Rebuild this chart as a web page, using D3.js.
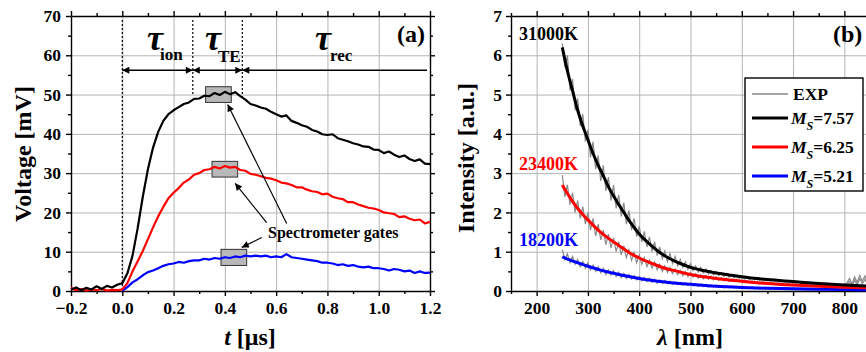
<!DOCTYPE html>
<html>
<head>
<meta charset="utf-8">
<script src="https://cdn.jsdelivr.net/npm/d3@7"></script>
<style>
  body { margin: 0; background: #fff; }
  svg text { font-family: "Liberation Serif", "Times New Roman", serif; font-weight: bold; }
  .grid line { stroke: #b4b4b4; stroke-width: 1; }
  .grid path { display: none; }
  .ax path, .ax line { stroke: #000; stroke-width: 1.4; }
  .ax text { font-size: 17.5px; fill: #000; }
</style>
</head>
<body>
<svg id="chart" width="866" height="352"></svg>
<script>
// ---------- panel (a): voltage traces ----------
const timeUs = [-0.20,-0.18,-0.16,-0.14,-0.12,-0.10,-0.08,-0.06,-0.04,-0.02,
  0.00,0.02,0.04,0.06,0.08,0.10,0.12,0.14,0.16,0.18,0.20,0.22,0.24,0.26,0.28,
  0.30,0.32,0.34,0.36,0.38,0.40,0.42,0.44,0.46,0.48,0.50,0.52,0.54,0.56,0.58,
  0.60,0.62,0.64,0.66,0.68,0.70,0.72,0.74,0.76,0.78,0.80,0.82,0.84,0.86,0.88,
  0.90,0.92,0.94,0.96,0.98,1.00,1.02,1.04,1.06,1.08,1.10,1.12,1.14,1.16,1.18,1.20];

const voltBlack = [0.3,0.9,0.2,0.8,0.4,1.2,0.5,1.3,0.9,1.6,
  2.0,4.5,9.0,16.0,24.0,31.0,36.5,40.5,43.3,45.0,46.0,46.8,47.6,48.0,48.9,
  49.0,49.7,49.6,50.4,49.9,50.7,50.1,50.6,49.6,48.7,47.6,47.2,46.7,46.4,45.6,
  45.0,44.4,44.7,43.3,42.8,42.2,41.8,41.0,40.6,39.9,39.7,39.9,38.9,38.5,38.1,
  37.6,37.3,36.8,36.7,36.0,35.9,35.1,35.5,34.7,34.1,34.5,33.6,33.1,33.5,32.4,32.3];

const voltRed = [0.8,0.2,0.5,0.1,0.4,0.2,0.5,0.1,0.3,0.2,
  0.4,2.0,5.0,7.6,10.2,13.2,16.2,19.0,21.4,23.6,25.0,26.2,27.6,28.4,29.6,
  30.0,30.8,31.0,31.6,31.2,31.8,31.4,31.6,30.8,30.6,29.8,29.6,29.2,28.8,28.6,
  28.2,27.6,27.4,27.0,26.4,26.4,25.8,25.4,25.2,24.6,24.8,24.0,23.6,23.4,22.6,
  22.6,22.0,21.6,21.2,21.0,20.6,20.0,19.8,19.6,18.8,19.0,18.4,18.0,18.2,17.2,17.6];

const voltBlue = [0.2,0.1,0.3,0.0,0.2,0.1,0.3,0.1,0.2,0.1,
  0.0,1.0,2.2,3.0,4.0,4.8,5.2,5.8,6.4,6.8,7.0,7.4,7.2,7.6,7.8,
  7.8,8.2,8.0,8.4,8.2,8.6,8.4,8.8,8.6,9.0,8.8,9.0,8.8,9.0,8.6,
  8.8,8.6,9.4,8.6,8.4,8.2,8.0,7.8,7.6,7.2,7.2,7.0,6.6,6.8,6.4,
  6.6,6.2,6.0,6.2,5.8,5.8,5.6,5.2,5.6,5.4,5.0,5.2,4.6,5.0,4.6,4.7];

// spectrometer gate windows (black, red, blue)
const gateTStart = [0.325, 0.35, 0.385];
const gateTEnd   = [0.425, 0.45, 0.485];
const gateVLow   = [48.0, 29.0, 6.5];
const gateVHigh  = [52.0, 33.0, 10.6];

// phase boundaries [us]
const phaseBounds = [0.0, 0.275, 0.468, 1.2];
const phaseNames = ['ion', 'TE', 'rec'];

// ---------- panel (b): spectra ----------
const lambdaExp = [250,255,260,265,270,275,280,285,290,295,
  300,305,310,315,320,325,330,335,340,345,
  350,355,360,365,370,375,380,385,390,395,
  400,405,410,415,420,425,430,435,440,445,
  450,455,460,465,470,475,480,485,490,495,
  500,505,510,515,520,525,530,535,540,545,
  550,555,560,565,570,575,580,585,590,595,
  600,605,610,615,620,625,630,635,640,645,
  650,655,660,665,670,675,680,685,690,695,
  700,705,710,715,720,725,730,735,740,745,
  750,755,760,765,770,775,780,785,790,795,
  800,805,810,815,820,825,830,835,840,845,850];

const expHot = [6.3,5.7,6.0,5.1,5.4,4.6,4.9,4.2,4.5,3.8,
  4.1,3.4,3.8,3.1,3.45,2.8,3.2,2.55,2.9,2.3,
  2.7,2.1,2.45,1.9,2.25,1.7,2.05,1.55,1.85,1.38,
  1.65,1.25,1.52,1.12,1.38,1.0,1.25,0.9,1.12,0.82,
  1.02,0.75,0.95,0.7,0.88,0.64,0.8,0.6,0.74,0.55,
  0.7,0.52,0.64,0.48,0.6,0.46,0.56,0.43,0.52,0.41,
  0.5,0.39,0.47,0.37,0.44,0.35,0.42,0.33,0.4,0.32,
  0.38,0.3,0.36,0.29,0.34,0.28,0.33,0.27,0.31,0.26,
  0.3,0.25,0.29,0.24,0.28,0.23,0.27,0.22,0.26,0.21,
  0.25,0.2,0.24,0.19,0.23,0.19,0.22,0.18,0.21,0.17,
  0.2,0.16,0.2,0.16,0.19,0.15,0.18,0.15,0.17,0.14,
  0.17,0.2,0.32,0.18,0.36,0.22,0.4,0.25,0.38,0.22,0.35];

const expMid = [2.95,2.4,2.7,2.2,2.5,2.0,2.3,1.85,2.15,1.7,
  2.0,1.55,1.85,1.4,1.7,1.3,1.55,1.18,1.45,1.1,
  1.35,1.0,1.25,0.92,1.15,0.85,1.05,0.78,0.98,0.72,
  0.92,0.68,0.85,0.62,0.78,0.58,0.74,0.54,0.68,0.5,
  0.64,0.47,0.6,0.44,0.56,0.42,0.52,0.39,0.49,0.37,
  0.47,0.35,0.44,0.33,0.42,0.31,0.4,0.3,0.38,0.28,
  0.36,0.27,0.34,0.26,0.33,0.25,0.31,0.24,0.3,0.23,
  0.28,0.22,0.27,0.21,0.26,0.2,0.25,0.19,0.24,0.18,
  0.23,0.17,0.22,0.16,0.21,0.16,0.2,0.15,0.19,0.14,
  0.18,0.14,0.17,0.13,0.17,0.12,0.16,0.12,0.15,0.11,
  0.15,0.11,0.14,0.1,0.14,0.1,0.13,0.09,0.13,0.09,
  0.12,0.15,0.24,0.12,0.28,0.15,0.32,0.18,0.3,0.16,0.27];

const expCool = [1.05,0.8,0.95,0.72,0.88,0.68,0.8,0.62,0.75,0.58,
  0.72,0.54,0.66,0.5,0.62,0.46,0.58,0.42,0.54,0.4,
  0.52,0.37,0.48,0.34,0.45,0.32,0.42,0.3,0.39,0.28,
  0.37,0.26,0.35,0.24,0.33,0.22,0.3,0.2,0.28,0.19,
  0.27,0.18,0.25,0.17,0.23,0.16,0.22,0.15,0.21,0.14,
  0.2,0.13,0.19,0.12,0.18,0.11,0.17,0.1,0.16,0.1,
  0.15,0.09,0.14,0.08,0.13,0.08,0.12,0.07,0.12,0.07,
  0.11,0.06,0.1,0.06,0.1,0.05,0.09,0.05,0.09,0.05,
  0.08,0.04,0.08,0.04,0.07,0.04,0.07,0.03,0.07,0.03,
  0.06,0.03,0.06,0.03,0.06,0.02,0.05,0.02,0.05,0.02,
  0.05,0.02,0.05,0.02,0.04,0.02,0.04,0.01,0.04,0.01,
  0.04,0.06,0.1,0.04,0.12,0.05,0.14,0.06,0.12,0.05,0.1];

const lambdaFitHot = [250,260,270,280,290,300,310,320,330,340,350,360,370,380,390,400,420,440,460,480,500,525,550,575,600,650,700,750,800,850];
const fitHot = [6.2,5.6,5.1,4.6,4.2,3.85,3.5,3.2,2.93,2.65,2.42,2.2,2.0,1.8,1.62,1.45,1.2,0.98,0.82,0.7,0.6,0.52,0.46,0.41,0.36,0.29,0.24,0.19,0.15,0.12];

const lambdaFitMid = [250,260,270,280,290,300,320,340,360,380,400,425,450,475,500,550,600,650,700,750,800,850];
const fitMid = [2.7,2.48,2.28,2.1,1.95,1.81,1.55,1.34,1.16,0.98,0.84,0.7,0.58,0.5,0.42,0.32,0.25,0.19,0.15,0.12,0.095,0.08];

const lambdaFitCool = [250,275,300,325,350,375,400,450,500,550,600,650,700,750,800,850];
const fitCool = [0.87,0.74,0.63,0.53,0.45,0.38,0.32,0.23,0.17,0.12,0.09,0.07,0.055,0.045,0.035,0.03];

const tempLabels = ['31000K', '23400K', '18200K'];
const machLabels = ['7.57', '6.25', '5.21'];
const seriesColors = ['#000000', '#ff0000', '#0000ff'];

const svg = d3.select('#chart');

svg.append('defs').append('marker')
  .attr('id', 'head')
  .attr('viewBox', '0 0 10 10')
  .attr('refX', 10).attr('refY', 5)
  .attr('markerWidth', 9).attr('markerHeight', 7)
  .attr('markerUnits', 'userSpaceOnUse')
  .attr('orient', 'auto-start-reverse')
  .append('path').attr('d', 'M0,0L10,5L0,10z').attr('fill', '#000');

// draws grid, four-sided frame with outward ticks, and tick labels
function drawFrame(x, y, xMajor, xMinor, yMajor, yMinor, xFmt, yFmt, yPad) {
  const [x0, x1] = x.range();
  const [y0, y1] = y.range();
  const g = svg.append('g');

  g.append('g').attr('class', 'grid').attr('transform', `translate(0,${y0})`)
    .call(d3.axisBottom(x).tickValues(xMajor).tickSize(-(y0 - y1)).tickFormat(''));
  g.append('g').attr('class', 'grid').attr('transform', `translate(${x0},0)`)
    .call(d3.axisLeft(y).tickValues(yMajor).tickSize(-(x1 - x0)).tickFormat(''));

  const put = (axis, tx, ty) => g.append('g').attr('class', 'ax')
    .attr('transform', `translate(${tx},${ty})`).call(axis);

  put(d3.axisBottom(x).tickValues(xMajor).tickSize(5).tickSizeOuter(0).tickPadding(6).tickFormat(xFmt), 0, y0);
  put(d3.axisBottom(x).tickValues(xMinor).tickSize(3).tickFormat(''), 0, y0).select('.domain').remove();
  put(d3.axisTop(x).tickValues(xMajor).tickSize(5).tickSizeOuter(0).tickFormat(''), 0, y1);
  put(d3.axisTop(x).tickValues(xMinor).tickSize(3).tickFormat(''), 0, y1).select('.domain').remove();

  put(d3.axisLeft(y).tickValues(yMajor).tickSize(5).tickSizeOuter(0).tickPadding(yPad).tickFormat(yFmt), x0, 0);
  put(d3.axisLeft(y).tickValues(yMinor).tickSize(3).tickFormat(''), x0, 0).select('.domain').remove();
  put(d3.axisRight(y).tickValues(yMajor).tickSize(5).tickSizeOuter(0).tickFormat(''), x1, 0);
  put(d3.axisRight(y).tickValues(yMinor).tickSize(3).tickFormat(''), x1, 0).select('.domain').remove();
  return g;
}

// ================= panel (a) =================
const xA = d3.scaleLinear().domain([-0.2, 1.2]).range([71, 430]);
const yA = d3.scaleLinear().domain([0, 70]).range([291, 16]);

drawFrame(xA, yA,
  [-0.2, 0, 0.2, 0.4, 0.6, 0.8, 1.0, 1.2], [-0.1, 0.1, 0.3, 0.5, 0.7, 0.9, 1.1],
  [0, 10, 20, 30, 40, 50, 60, 70], [5, 15, 25, 35, 45, 55, 65],
  d3.format('.1f'), d3.format('d'), 5);

// phase dividers
const dividerTop = 69;
const dividerBottom = [0, 50, 49.4];
phaseBounds.slice(0, 3).forEach((t, i) => {
  svg.append('line')
    .attr('x1', xA(t)).attr('x2', xA(t))
    .attr('y1', yA(dividerTop)).attr('y2', yA(dividerBottom[i]))
    .attr('stroke', '#000').attr('stroke-width', 1.2).attr('stroke-dasharray', '2,2');
});

// double arrows for each phase
const arrowV = 56.2;
phaseNames.forEach((name, i) => {
  svg.append('line')
    .attr('x1', xA(phaseBounds[i])).attr('x2', xA(phaseBounds[i + 1]) - (i === 2 ? 3 : 0))
    .attr('y1', yA(arrowV)).attr('y2', yA(arrowV))
    .attr('stroke', '#000').attr('stroke-width', 1.4)
    .attr('marker-start', 'url(#head)')
    .attr('marker-end', i === 2 ? null : 'url(#head)');
});

// tau labels
const tauX = [147, 205, 315];
const subX = [160, 218, 330];
const subY = [60, 62, 61];
phaseNames.forEach((name, i) => {
  svg.append('text').attr('x', tauX[i]).attr('y', 50)
    .style('font-style', 'italic').style('font-size', '36px').text('τ');
  svg.append('text').attr('x', subX[i]).attr('y', subY[i])
    .style('font-size', '17px').text(name);
});

// gate boxes
gateTStart.forEach((t, i) => {
  svg.append('rect')
    .attr('x', xA(t)).attr('y', yA(gateVHigh[i]))
    .attr('width', xA(gateTEnd[i]) - xA(t))
    .attr('height', yA(gateVLow[i]) - yA(gateVHigh[i]))
    .attr('fill', '#b8b8b8').attr('stroke', '#333').attr('stroke-width', 1);
});

const lineA = d3.line().x(d => xA(d[0])).y(d => yA(d[1]));
[voltBlue, voltRed, voltBlack].forEach((vals, k) => {
  const color = ['#0000ff', '#ff0000', '#000000'][k];
  const pts = timeUs.map((t, i) => [t, vals[i]]).filter(d => !(k === 0 && d[0] < 0));
  svg.append('path').datum(pts)
    .attr('fill', 'none').attr('stroke', color).attr('stroke-width', 2.2)
    .attr('stroke-linejoin', 'round').attr('d', lineA);
});

// pointer arrows to the gates
const pointerTail = [[0.641, 17.2], [0.563, 17.4], [0.544, 13.6]];
const pointerHead = [[0.411, 47.5], [0.44, 27.4], [0.466, 11.1]];
pointerTail.forEach((p, i) => {
  svg.append('line')
    .attr('x1', xA(p[0])).attr('y1', yA(p[1]))
    .attr('x2', xA(pointerHead[i][0])).attr('y2', yA(pointerHead[i][1]))
    .attr('stroke', '#000').attr('stroke-width', 1.2)
    .attr('marker-end', 'url(#head)');
});
svg.append('text').attr('x', 268).attr('y', 238).style('font-size', '16px').text('Spectrometer gates');

svg.append('text').attr('x', 425).attr('y', 42).attr('text-anchor', 'end').style('font-size', '24px').text('(a)');

svg.append('text').attr('transform', 'translate(31,154) rotate(-90)')
  .attr('text-anchor', 'middle').style('font-size', '24px').text('Voltage [mV]');
const tt = svg.append('text').attr('x', 250).attr('y', 345).attr('text-anchor', 'middle').style('font-size', '24px');
tt.append('tspan').style('font-style', 'italic').text('t');
tt.append('tspan').text(' [μs]');

// ================= panel (b) =================
const xB = d3.scaleLinear().domain([150, 850]).range([511, 870]);
const yB = d3.scaleLinear().domain([0, 7]).range([291, 16]);

drawFrame(xB, yB,
  [200, 300, 400, 500, 600, 700, 800], [150, 250, 350, 450, 550, 650, 750, 850],
  [0, 1, 2, 3, 4, 5, 6, 7], [0.5, 1.5, 2.5, 3.5, 4.5, 5.5, 6.5],
  d3.format('d'), d3.format('d'), 4);

const lineB = d3.line().x(d => xB(d[0])).y(d => yB(d[1]));
[expCool, expMid, expHot].forEach(vals => {
  svg.append('path').datum(lambdaExp.map((l, i) => [l, vals[i]]))
    .attr('fill', 'none').attr('stroke', '#8a8a8a').attr('stroke-width', 1.2).attr('d', lineB);
});

const lineFit = d3.line().x(d => xB(d[0])).y(d => yB(d[1])).curve(d3.curveMonotoneX);
[[lambdaFitCool, fitCool, 2], [lambdaFitMid, fitMid, 1], [lambdaFitHot, fitHot, 0]].forEach(([ls, vs, c]) => {
  svg.append('path').datum(ls.map((l, i) => [l, vs[i]]))
    .attr('fill', 'none').attr('stroke', seriesColors[c]).attr('stroke-width', 3).attr('d', lineFit);
});

// temperature labels
const tempY = [40, 170, 246];
tempLabels.forEach((s, i) => {
  svg.append('text').attr('x', 519).attr('y', tempY[i]).attr('fill', seriesColors[i])
    .style('font-size', '18px').text(s);
});

svg.append('text').attr('x', 833).attr('y', 42).style('font-size', '24px').text('(b)');

// legend
const lg = svg.append('g');
lg.append('rect').attr('x', 745).attr('y', 78).attr('width', 118).attr('height', 113)
  .attr('fill', '#fff').attr('stroke', '#000').attr('stroke-width', 1.4);
lg.append('line').attr('x1', 752).attr('x2', 788).attr('y1', 94).attr('y2', 94)
  .attr('stroke', '#8a8a8a').attr('stroke-width', 1.3);
lg.append('text').attr('x', 793).attr('y', 100).style('font-size', '17.5px').text('EXP');
const rowY = [118, 147, 176];
machLabels.forEach((m, i) => {
  lg.append('line').attr('x1', 752).attr('x2', 788).attr('y1', rowY[i]).attr('y2', rowY[i])
    .attr('stroke', seriesColors[i]).attr('stroke-width', 3);
  const t = lg.append('text').attr('x', 791).attr('y', rowY[i] + 6).style('font-size', '17.5px');
  t.append('tspan').style('font-style', 'italic').text('M');
  t.append('tspan').style('font-style', 'italic').style('font-size', '12px').attr('dy', 6).text('S');
  t.append('tspan').attr('dy', -6).text('=' + m);
});

svg.append('text').attr('transform', 'translate(474,158) rotate(-90)')
  .attr('text-anchor', 'middle').style('font-size', '24px').text('Intensity [a.u.]');
const lt = svg.append('text').attr('x', 690).attr('y', 345).attr('text-anchor', 'middle').style('font-size', '24px');
lt.append('tspan').style('font-style', 'italic').text('λ');
lt.append('tspan').text(' [nm]');
</script>
</body>
</html>
